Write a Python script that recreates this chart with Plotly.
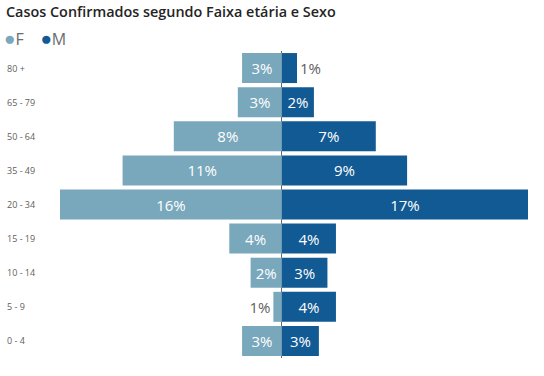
import plotly.graph_objects as go

categories = ["80 +", "65 - 79", "50 - 64", "35 - 49", "20 - 34", "15 - 19", "10 - 14", "5 - 9", "0 - 4"]
female = [2.8, 3.1, 7.6, 11.2, 15.6, 3.7, 2.2, 0.6, 2.8]
male = [1.06, 2.25, 6.6, 8.8, 17.3, 3.8, 3.2, 3.8, 2.6]

F_COLOR = "#79A8BC"
M_COLOR = "#125A93"
FONT = "Segoe UI, Open Sans, sans-serif"

fig = go.Figure()
fig.add_trace(go.Bar(
    y=categories, x=[-v for v in female], orientation="h", name="F",
    marker=dict(color=F_COLOR, line=dict(width=0)),
    text=[f"{round(v)}%" for v in female], textposition="auto",
    insidetextanchor="middle", constraintext="none",
    insidetextfont=dict(color="white", size=15, family=FONT),
    outsidetextfont=dict(color="#605E5C", size=15, family=FONT),
    showlegend=False,
))
fig.add_trace(go.Bar(
    y=categories, x=male, orientation="h", name="M",
    marker=dict(color=M_COLOR, line=dict(width=0)),
    text=[f"{round(v)}%" for v in male], textposition="auto",
    insidetextanchor="middle", constraintext="none",
    insidetextfont=dict(color="white", size=15, family=FONT),
    outsidetextfont=dict(color="#605E5C", size=15, family=FONT),
    showlegend=False,
))

annotations = [
    dict(text="Casos Confirmados segundo Faixa etária e Sexo", xref="paper", yref="paper",
         x=-0.119, y=1.0, yshift=40, xanchor="left", yanchor="middle", showarrow=False,
         font=dict(size=14.4, color="#252423", family=FONT, weight=600)),
    dict(text=(f"<span style='color:{F_COLOR};font-size:19px'>●</span>F"
               f"    <span style='color:{M_COLOR};font-size:19px'>●</span>M"),
         xref="paper", yref="paper", x=-0.123, y=1.0, yshift=13, xanchor="left", yanchor="middle",
         showarrow=False, font=dict(size=16, color="#6B6B6B", family=FONT)),
]
for c in categories:
    annotations.append(dict(text=c, xref="paper", yref="y", x=-0.1175, y=c, xanchor="left",
                            yanchor="middle", showarrow=False,
                            font=dict(size=9, color="#605E5C", family=FONT)))

fig.update_layout(
    width=544, height=376,
    margin=dict(l=60, r=16, t=51, b=18),
    paper_bgcolor="white", plot_bgcolor="white",
    barmode="relative", bargap=0.12,
    annotations=annotations,
    font=dict(family=FONT),
)
fig.update_xaxes(range=[-max(female), max(male)], showticklabels=False, showgrid=False,
                 zeroline=True, zerolinecolor="#5A6A75", zerolinewidth=1, fixedrange=True)
fig.update_yaxes(categoryorder="array", categoryarray=categories[::-1], showticklabels=False,
                 showgrid=False, zeroline=False, fixedrange=True)

fig.write_html("out.html", post_script="document.body.style.margin='0';",
               config={"displayModeBar": False})
